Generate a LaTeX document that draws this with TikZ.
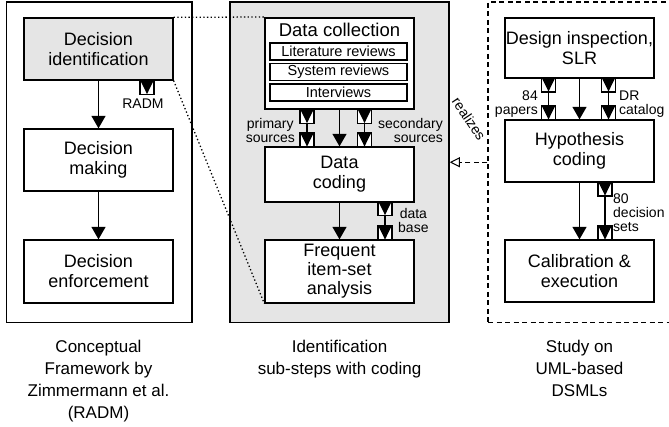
\documentclass[tikz,border=0pt]{standalone}
\usepackage{fontspec}
\setmainfont{Liberation Sans}
\usetikzlibrary{arrows.meta}
\begin{document}
\begin{tikzpicture}[x=1pt,y=-1pt,
 box/.style={draw, line width=1.3pt, minimum width=149pt, align=center, inner sep=0pt, font=\fontsize{18}{20}\selectfont},
 subbox/.style={draw, line width=1.1pt, minimum width=137pt, minimum height=17pt, inner sep=0pt, font=\fontsize{14.5}{15}\selectfont},
 outerbox/.style={line width=1.5pt, inner sep=0pt},
 arr/.style={line width=1.3pt, -{Triangle[width=14pt,length=12.5pt]}},
 pline/.style={line width=1.3pt},
 port/.style={draw, fill=white, line width=1.1pt, minimum size=14pt, inner sep=0pt},
 lbl/.style={inner sep=0pt, font=\fontsize{14}{14}\selectfont},
 captext/.style={inner sep=0pt, anchor=north, align=center, font=\fontsize{17}{22}\selectfont},
 dotline/.style={line width=1.3pt, dash pattern=on 1.3pt off 2.4pt},
 dashline/.style={line width=1.2pt, dash pattern=on 5pt off 3.5pt},
]
\useasboundingbox (0,0) rectangle (669,427);
\clip (0,0) rectangle (669,427);

% outer boxes
\node[outerbox, draw, minimum width=185.5pt, minimum height=320.5pt] (lbox) at (99.25,162.25) {};
\node[outerbox, draw, fill=gray!20, minimum width=219pt, minimum height=320.5pt] (mbox) at (339.5,162.25) {};
\node[outerbox, draw, dashline, minimum width=192pt, minimum height=320.5pt] (rbox) at (584,162.25) {};

% left column
\node[box, fill=gray!20, minimum height=62pt] (di) at (98.5,49) {Decision\\identification};
\node[box, fill=white, minimum height=62pt] (dm) at (98.5,160) {Decision\\making};
\node[box, fill=white, minimum height=63pt] (de) at (98.5,271.5) {Decision\\enforcement};
\draw[arr] (di) -- (dm);
\draw[arr] (dm) -- (de);
\node[port] (pr) at (147,87.5) {};
\node[lbl] (radm) at (143,104) {RADM};

% middle column
\node[box, fill=white, line width=2pt, minimum height=91pt] (dc) at (339.5,63.5) {};
\node[inner sep=0pt, font=\fontsize{18.5}{20}\selectfont] (dct) at (339.5,30) {Data collection};
\node[subbox] (lit) at (338.5,51.5) {Literature reviews};
\node[subbox] (sys) at (338.5,72) {System reviews};
\node[subbox] (int) at (338.5,92.5) {Interviews};
\node[box, fill=white, minimum height=55pt] (dcod) at (339.5,174.5) {Data\\coding};
\node[box, fill=white, minimum height=63pt, font=\fontsize{18}{19}\selectfont] (fia) at (339.5,271.5) {Frequent\\item-set\\analysis};
\draw[arr] (dc) -- (dcod);
\draw[arr] (dcod) -- (fia);
\node[port] (p1o) at (307,116.5) {};
\node[port] (p1i) at (307,140) {};
\node[port] (p2o) at (364.5,116.5) {};
\node[port] (p2i) at (364.5,140) {};
\draw[pline] (p1o.south) -- (p1i.north);
\draw[pline] (p2o.south) -- (p2i.north);
\node[lbl, anchor=east, align=center] (lprim) at (295,130) {primary\\sources};
\node[lbl, anchor=west, align=right] (lsec) at (378,130) {secondary\\sources};
\node[port] (p3o) at (385,208.5) {};
\node[port] (p3i) at (385,233) {};
\draw[pline] (p3o.south) -- (p3i.north);
\node[lbl, anchor=west, align=center] (ldb) at (398,220.5) {data\\base};

% right column
\node[box, fill=white, minimum height=60pt] (dis) at (579.5,48) {Design inspection,\\SLR};
\node[box, fill=white, minimum height=62pt] (hc) at (579.5,151) {Hypothesis\\coding};
\node[box, fill=white, minimum height=62pt] (ce) at (579.5,271) {Calibration \&\\execution};
\draw[arr] (dis) -- (hc);
\draw[arr] (hc) -- (ce);
\node[port] (p4o) at (548.5,85) {};
\node[port] (p4i) at (548.5,113) {};
\node[port] (p5o) at (608.5,85) {};
\node[port] (p5i) at (608.5,113) {};
\draw[pline] (p4o.south) -- (p4i.north);
\draw[pline] (p5o.south) -- (p5i.north);
\node[lbl, anchor=east, align=right] (l84) at (538,104) {84\\papers};
\node[lbl, anchor=west, align=left] (ldr) at (619,104) {DR\\catalog};
\node[port] (p6o) at (605,189) {};
\node[port] (p6i) at (605,233) {};
\draw[pline] (p6o.south) -- (p6i.north);
\node[lbl, anchor=west, align=left] (l80) at (613,213) {80\\decision\\sets};

% triangles in the ports
\foreach \p in {pr,p1o,p1i,p2o,p2i,p3o,p3i,p4o,p4i,p5o,p5i,p6o,p6i}
  \fill ([shift={(1.2,1.2)}]\p.north west) -- ([shift={(-1.2,1.2)}]\p.north east) -- ([shift={(0,-1)}]\p.south) -- cycle;

% realizes
\draw[dashline, line width=1pt, -{Triangle[open,width=10pt,length=10pt]}] (rbox.west) -- (mbox.east);
\node[lbl, rotate=-56] (lreal) at (469,119) {realizes};

% dotted zoom lines
\draw[dotline] (di.north east) -- (dc.north west);
\draw[dotline] (di.south east) -- (fia.south west);

% captions
\node[captext] (c1) at (98.5,340) {Conceptual\\Framework by\\Zimmermann et al.\\(RADM)};
\node[captext] (c2) at (339.5,340) {Identification\\sub-steps with coding};
\node[captext] (c3) at (579.5,340) {Study on\\UML-based\\DSMLs};
\end{tikzpicture}
\end{document}
